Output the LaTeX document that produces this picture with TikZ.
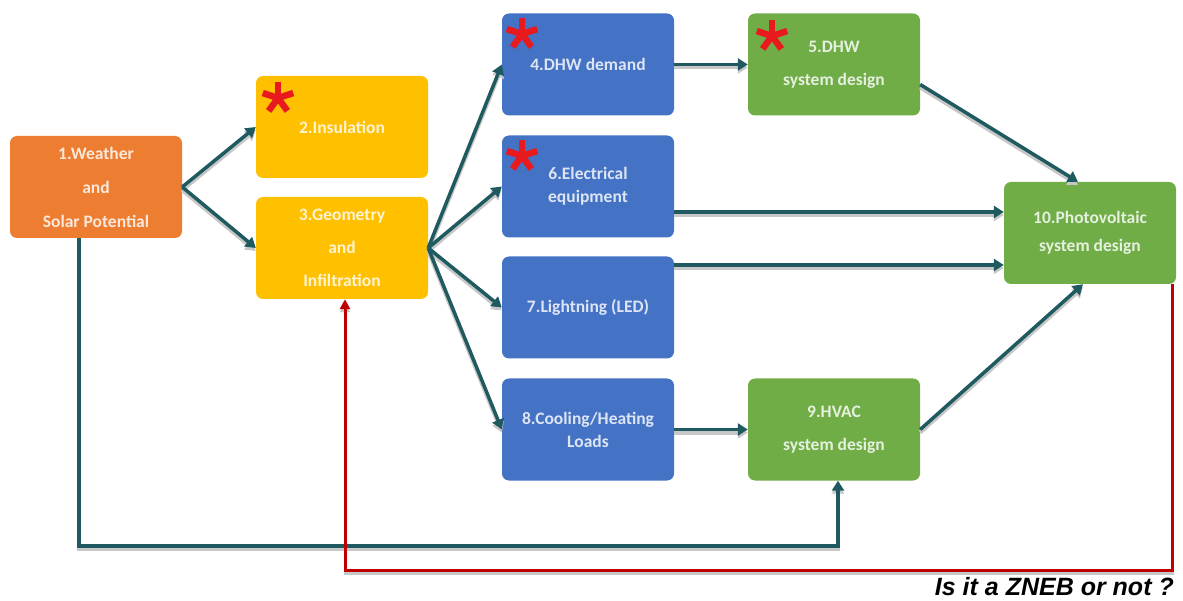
\documentclass[tikz,border=0pt]{standalone}
\usepackage{fontspec}
\setmainfont{Carlito}
\newfontfamily\zfont{Liberation Sans}
\usetikzlibrary{arrows.meta}
\definecolor{orng}{HTML}{ED7D31}
\definecolor{yel}{HTML}{FFC000}
\definecolor{blu}{HTML}{4472C4}
\definecolor{grn}{HTML}{70AD47}
\definecolor{conn}{HTML}{1F5A61}
\definecolor{redl}{HTML}{C00000}
\definecolor{starred}{HTML}{E81A1E}
\tikzset{
  box/.style={rectangle, rounded corners=7, minimum width=172, minimum height=102,
    inner sep=0, align=center, fill=#1, text=white!82!#1},
  lead/.style={font=\bfseries\fontsize{17.5}{#1}\selectfont},
  shadow/.style={preaction={draw=black!22, line width=4, transform canvas={yshift=-3pt}}},
  arr/.style={draw=conn, line width=3.5, shadow, -{Triangle[length=10,width=12]}},
  redarr/.style={draw=redl, line width=3, preaction={draw=black!22, line width=3, transform canvas={yshift=-3pt}}, -{Triangle[length=10,width=10]}},
  starline/.style={draw=starred, line width=6.5}
}
\newcommand{\redstar}[1]{%
  \begin{scope}[shift={(#1)}]
  \foreach \a in {90,18,162,234,306}
    \draw[starline] (0,0) -- ({16*cos(\a)},{-16*sin(\a)});
  \end{scope}}
\begin{document}
\begin{tikzpicture}[x=1pt,y=-1pt]
\useasboundingbox (0,0) rectangle (1183,601);
\fill[white] (0,0) rectangle (1183,601);

\node[box=orng, lead=34] (n1) at (96,187) {1.Weather\\and\\Solar Potential};
\node[box=yel, lead=33] (n2) at (342,127) {2.Insulation};
\node[box=yel, lead=33] (n3) at (342,248) {3.Geometry\\and\\Infiltration};
\node[box=blu, lead=23] (n4) at (588,64.5) {4.DHW demand};
\node[box=blu, lead=23] (n6) at (588,186.5) {6.Electrical\\equipment};
\node[box=blu, lead=23] (n7) at (588,307.5) {7.Lightning (LED)};
\node[box=blu, lead=23] (n8) at (588,429.5) {8.Cooling/Heating\\Loads};
\node[box=grn, lead=33] (n5) at (834,64.5) {5.DHW\\system design};
\node[box=grn, lead=33] (n9) at (834,429.5) {9.HVAC\\system design};
\node[box=grn, lead=28] (n10) at (1090,233) {10.Photovoltaic\\system design};

\redstar{278,98}
\redstar{522,34}
\redstar{522,156}
\redstar{772,36}

\draw[arr] (n1.east) -- (n2.west);
\draw[arr] (n1.east) -- (n3.west);
\draw[arr] (n3.east) -- (n4.west);
\draw[arr] (n3.east) -- (n6.west);
\draw[arr] (n3.east) -- (n7.west);
\draw[arr] (n3.east) -- (n8.west);
\draw[arr] (n4.east) -- (n5.west);
\draw[arr] ([yshift=-20]n5.east) -- ([xshift=-12]n10.north);
\draw[arr] ([yshift=-25.5]n6.east) -- ([yshift=-25.5]n6.east -| n10.west);
\draw[arr] ([yshift=42.5]n7.east) -- ([yshift=42.5]n7.east -| n10.west);
\draw[arr] (n8.east) -- (n9.west);
\draw[arr] (n9.east) -- ([xshift=-7]n10.south);

\coordinate (c1) at (79,546);
\coordinate (c2) at (838,546);
\draw[arr] ([xshift=-17]n1.south) -- (c1) -- (c2) -- ([xshift=4]n9.south);

\coordinate (r1) at (1172,570);
\coordinate (r2) at (345,570);
\draw[redarr] ([xshift=82]n10.south) -- (r1) -- (r2) -- ([xshift=3]n3.south);

\node[anchor=base east, inner sep=0, font=\zfont\bfseries\itshape\fontsize{25}{29}\selectfont] (q) at (1174,595) {Is it a ZNEB or not ?};
\end{tikzpicture}
\end{document}
